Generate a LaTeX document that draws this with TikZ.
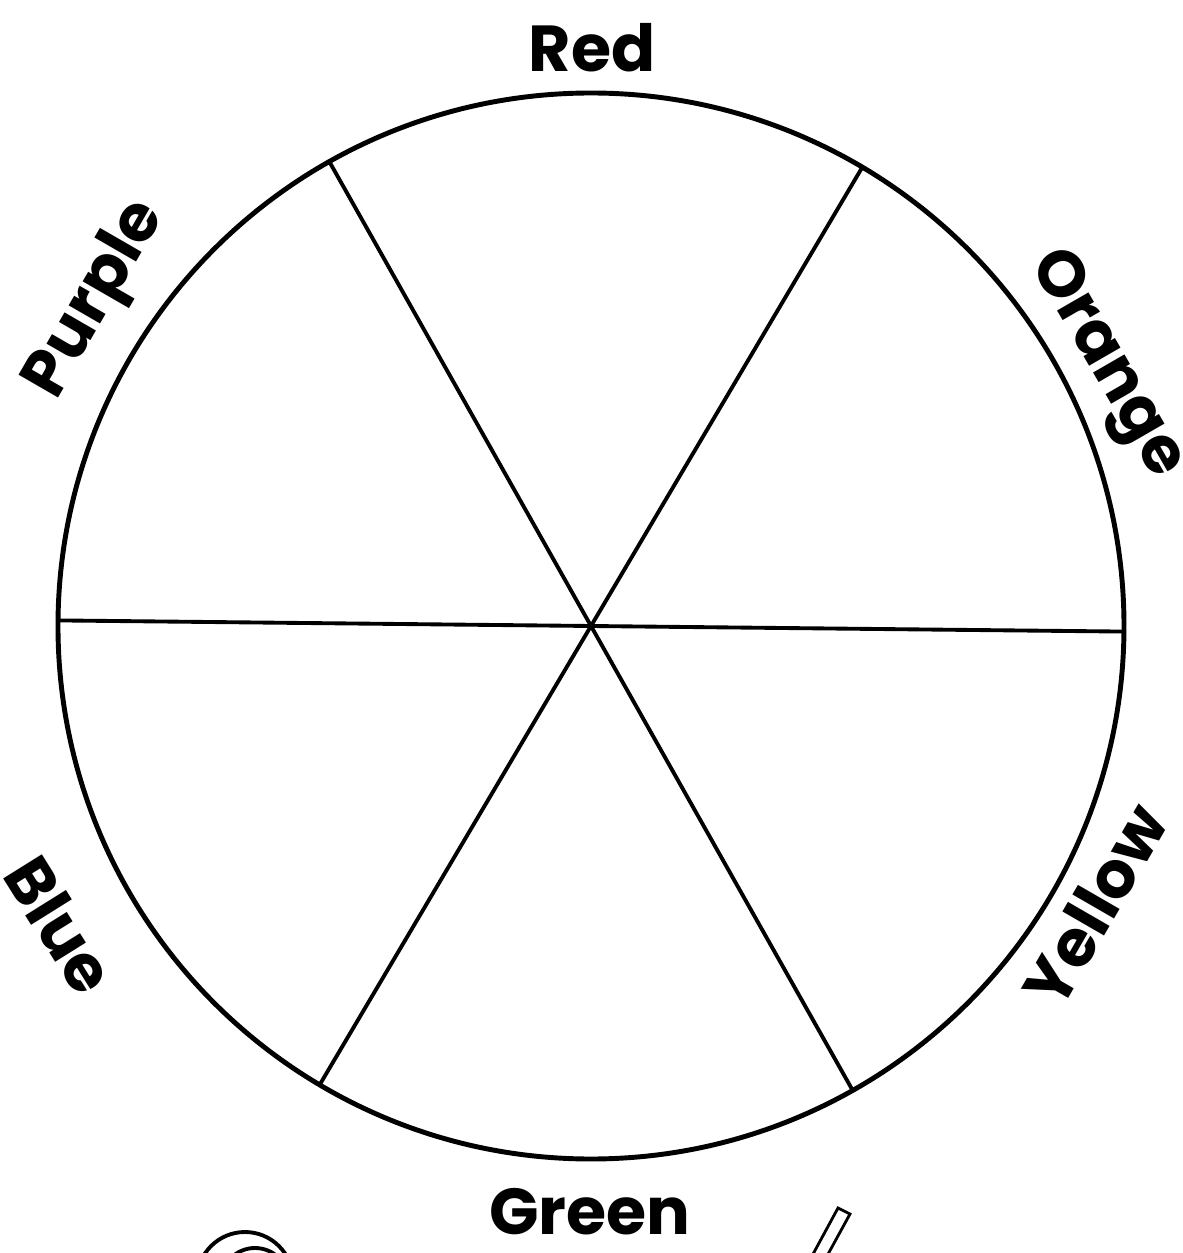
\documentclass[tikz,border=0pt]{standalone}
\usepackage{fontspec}
\setmainfont{Poppins}
\usetikzlibrary{calc}

\tikzset{
    wheel/.style={line width=2.8pt},
    spoke/.style={line width=2.2pt},
    colname/.style={font=\fontsize{37}{40}\selectfont\bfseries, inner sep=0pt}
}

\begin{document}
\begin{tikzpicture}

\useasboundingbox (-11.82,-12.54) rectangle (11.82,12.52);
\clip (-11.82,-12.54) rectangle (11.82,12.52);

% Wheel
\coordinate (c) at (0,0);
\draw[wheel] (c) circle (10.66);

% Spokes
\coordinate (e) at (-0.6:10.66);
\coordinate (w) at (179.4:10.66);
\coordinate (ne) at (59.4:10.66);
\coordinate (nw) at (119.4:10.66);
\coordinate (sw) at (239.4:10.66);
\coordinate (se) at (299.4:10.66);
\draw[spoke] (w) -- (e);
\draw[spoke] (nw) -- (se);
\draw[spoke] (ne) -- (sw);

% Colour names
\node[colname] (red) at (0.02,11.56) {Red};
\node[colname, rotate=-60] (orange) at (10.28,5.22) {Orange};
\node[colname, rotate=60] (yellow) at (10.08,-5.58) {Yellow};
\node[colname] (green) at (-0.02,-11.72) {Green};
\node[colname, rotate=-58] (blue) at (-10.62,-5.98) {Blue};
\node[colname, rotate=60] (purple) at (-9.88,6.52) {Purple};

% Pieces of the next picture
\draw[line width=2.2pt] (-6.92,-13.08) circle (0.96);
\draw[line width=2.2pt] (-6.72,-13.12) circle (0.68);
\draw[line width=1.6pt] (4.42,-12.6) -- (4.94,-11.64) -- (5.18,-11.76) -- (4.72,-12.6);

\end{tikzpicture}
\end{document}
